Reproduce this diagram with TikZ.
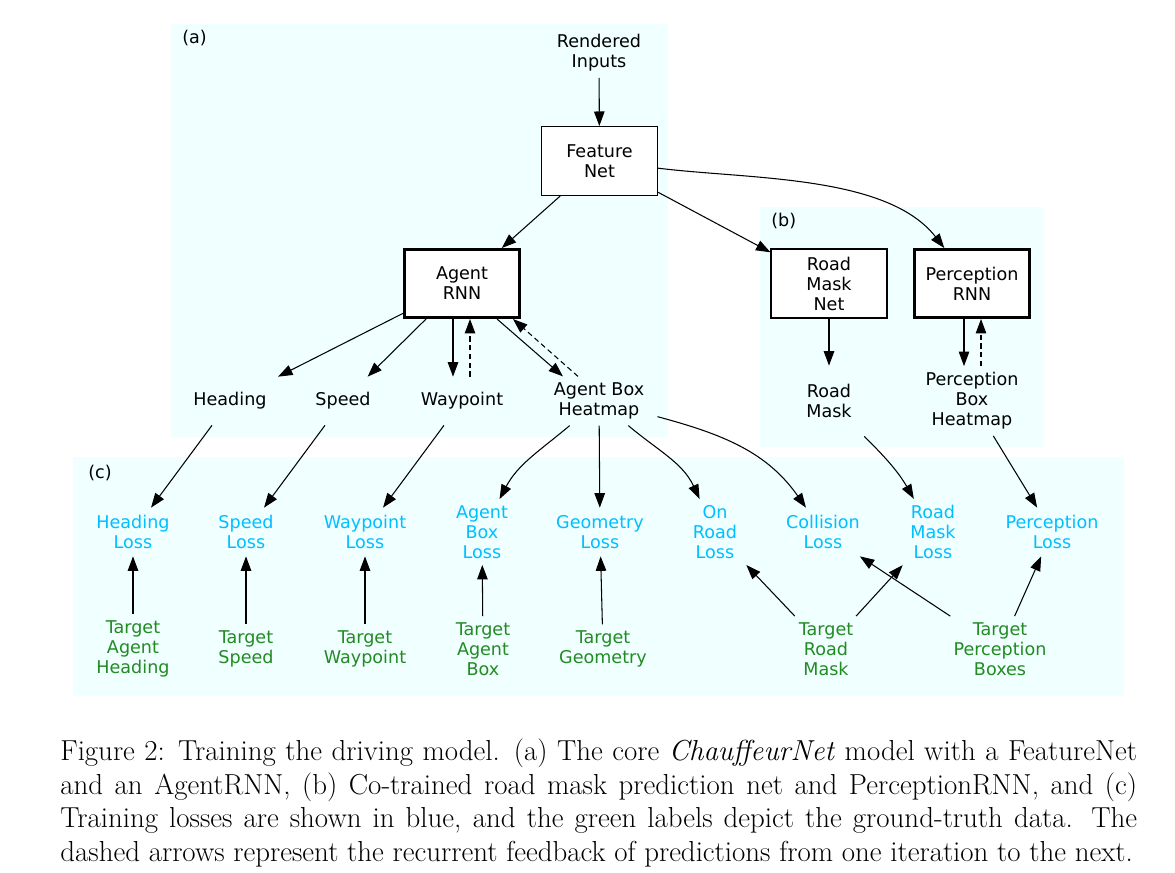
\documentclass[tikz,border=0pt]{standalone}
\usepackage{fontspec}
\newfontfamily\dejavu{DejaVu Sans}
\usepackage{tikz}
\usetikzlibrary{arrows.meta, calc}
\definecolor{PanelCyan}{HTML}{F0FFFF}
\definecolor{LossBlue}{HTML}{00BFFF}
\definecolor{TargetGreen}{HTML}{228B22}
\newcommand{\diagfont}{\dejavu\fontsize{10pt}{11.4pt}\selectfont}
\tikzset{
  panel/.style={fill=PanelCyan, draw=none},
  panellabel/.style={anchor=west, inner sep=0pt, font=\diagfont},
  netbox/.style={rectangle, draw=black, line width=0.6pt, fill=white, minimum width=2.32cm, minimum height=1.38cm, font=\diagfont, align=center},
  rnnbox/.style={rectangle, draw=black, line width=1.7pt, fill=white, minimum width=2.30cm, minimum height=1.36cm, font=\diagfont, align=center},
  outlabel/.style={rectangle, inner xsep=0.26cm, inner ysep=0.12cm, minimum width=1.44cm, minimum height=0.96cm, font=\diagfont, align=center},
  losslabel/.style={outlabel, text=LossBlue},
  targetlabel/.style={outlabel, text=TargetGreen},
  arrow/.style={-{Triangle[length=0.29cm, width=0.21cm]}, line width=0.6pt, black},
  dashedarrow/.style={arrow, dash pattern=on 3pt off 2pt}
}

\begin{document}
\begin{tikzpicture}[x=0.02cm, y=0.02cm]
  \useasboundingbox (0,0) rectangle (1175,-872);

  % panels
  \fill[panel] (171,-24) rectangle (668,-437);
  \fill[panel] (760,-207) rectangle (1043,-447);
  \fill[panel] (73,-457) rectangle (1124,-696);
  \node[panellabel] (labela) at (182,-38) {(a)};
  \node[panellabel] (labelb) at (771,-221) {(b)};
  \node[panellabel] (labelc) at (88,-473) {(c)};

  % networks
  \node[outlabel] (rendered) at (599,-53) {Rendered\\Inputs};
  \node[netbox] (featnet) at (599.5,-161) {Feature\\Net};
  \node[rnnbox] (agentrnn) at (462,-283.5) {Agent\\RNN};
  \node[netbox] (roadnet) at (829,-283.5) {Road\\Mask\\Net};
  \node[rnnbox] (percrnn) at (972,-283.5) {Perception\\RNN};

  % predictions
  \node[outlabel] (heading) at (230,-401) {Heading};
  \node[outlabel] (speed) at (343,-401) {Speed};
  \node[outlabel] (waypoint) at (462,-401) {Waypoint};
  \node[outlabel] (agentheat) at (599,-401) {Agent Box\\Heatmap};
  \node[outlabel, minimum height=1.4cm] (roadmask) at (829,-401) {Road\\Mask};
  \node[outlabel] (percheat) at (972,-401) {Perception\\Box\\Heatmap};

  % losses
  \node[losslabel] (headingloss) at (133,-532) {Heading\\Loss};
  \node[losslabel] (speedloss) at (246,-532) {Speed\\Loss};
  \node[losslabel] (waypointloss) at (365,-532) {Waypoint\\Loss};
  \node[losslabel] (agentboxloss) at (482,-532) {Agent\\Box\\Loss};
  \node[losslabel] (geometryloss) at (600,-532) {Geometry\\Loss};
  \node[losslabel] (onroadloss) at (715,-532) {On\\Road\\Loss};
  \node[losslabel] (collisionloss) at (823,-532) {Collision\\Loss};
  \node[losslabel] (roadmaskloss) at (933,-532) {Road\\Mask\\Loss};
  \node[losslabel] (perceptionloss) at (1052,-532) {Perception\\Loss};

  % ground truth
  \node[targetlabel] (tgtheading) at (133,-649) {Target\\Agent\\Heading};
  \node[targetlabel] (tgtspeed) at (246,-649) {Target\\Speed};
  \node[targetlabel] (tgtwaypoint) at (365,-649) {Target\\Waypoint};
  \node[targetlabel] (tgtagentbox) at (483,-649) {Target\\Agent\\Box};
  \node[targetlabel] (tgtgeometry) at (603,-649) {Target\\Geometry};
  \node[targetlabel] (tgtroadmask) at (826,-649) {Target\\Road\\Mask};
  \node[targetlabel] (tgtpercboxes) at (1000,-649) {Target\\Perception\\Boxes};

  % model arrows
  \draw[arrow] (rendered) -- (featnet);
  \draw[arrow] (featnet) -- (agentrnn);
  \draw[arrow] (featnet) -- (roadnet);
  \draw[arrow] (featnet) to[out=-7, in=128, looseness=0.8] (percrnn);
  \draw[arrow] (agentrnn) -- (heading);
  \draw[arrow] (agentrnn) -- (speed);
  \draw[arrow] ($(agentrnn.south)+(-9,0)$) -- ($(waypoint.north)+(-9,0)$);
  \draw[dashedarrow] ($(waypoint.north)+(8,0)$) -- ($(agentrnn.south)+(8,0)$);
  \draw[arrow] ($(agentrnn.south east)+(-24,0)$) -- ($(agentheat.north)+(-36,0)$);
  \draw[dashedarrow] ($(agentheat.north)+(-21,0)$) -- ($(agentrnn.south east)+(-8,0)$);
  \draw[arrow] (roadnet) -- (roadmask);
  \draw[arrow] ($(percrnn.south)+(-8,0)$) -- ($(percheat.north)+(-8,0)$);
  \draw[dashedarrow] ($(percheat.north)+(9,0)$) -- ($(percrnn.south)+(9,0)$);

  % prediction to loss
  \draw[arrow] (heading) -- (headingloss);
  \draw[arrow] (speed) -- (speedloss);
  \draw[arrow] (waypoint) -- (waypointloss);
  \draw[arrow] (agentheat) to[out=-140, in=62] (agentboxloss);
  \draw[arrow] (agentheat) -- (geometryloss);
  \draw[arrow] (agentheat) to[out=-40, in=115] (onroadloss);
  \draw[arrow] (agentheat) to[out=-15, in=125] (collisionloss);
  \draw[arrow] (roadmask) to[out=-45, in=120] (roadmaskloss);
  \draw[arrow] (percheat) -- (perceptionloss);

  % target to loss
  \draw[arrow] (tgtheading) -- (headingloss);
  \draw[arrow] (tgtspeed) -- (speedloss);
  \draw[arrow] (tgtwaypoint) -- (waypointloss);
  \draw[arrow] (tgtagentbox) -- (agentboxloss);
  \draw[arrow] (tgtgeometry) -- (geometryloss);
  \draw[arrow] (tgtroadmask) -- (onroadloss);
  \draw[arrow] (tgtroadmask) -- (roadmaskloss);
  \draw[arrow] (tgtpercboxes) -- (collisionloss);
  \draw[arrow] (tgtpercboxes) -- (perceptionloss);

  % caption
  \node[anchor=north west, inner sep=0pt, text width=21.54cm, align=justify,
        font=\fontsize{16.45pt}{19.2pt}\selectfont] (caption) at (60,-738.3)
    {Figure 2: Training the driving model. (a) The core \textit{ChauffeurNet} model with a FeatureNet\linebreak
     and an AgentRNN, (b) Co-trained road mask prediction net and PerceptionRNN, and (c)\linebreak
     Training losses are shown in blue, and the green labels depict the ground-truth data. The\linebreak
     dashed arrows represent the recurrent feedback of predictions from one iteration to the next.};
\end{tikzpicture}
\end{document}
